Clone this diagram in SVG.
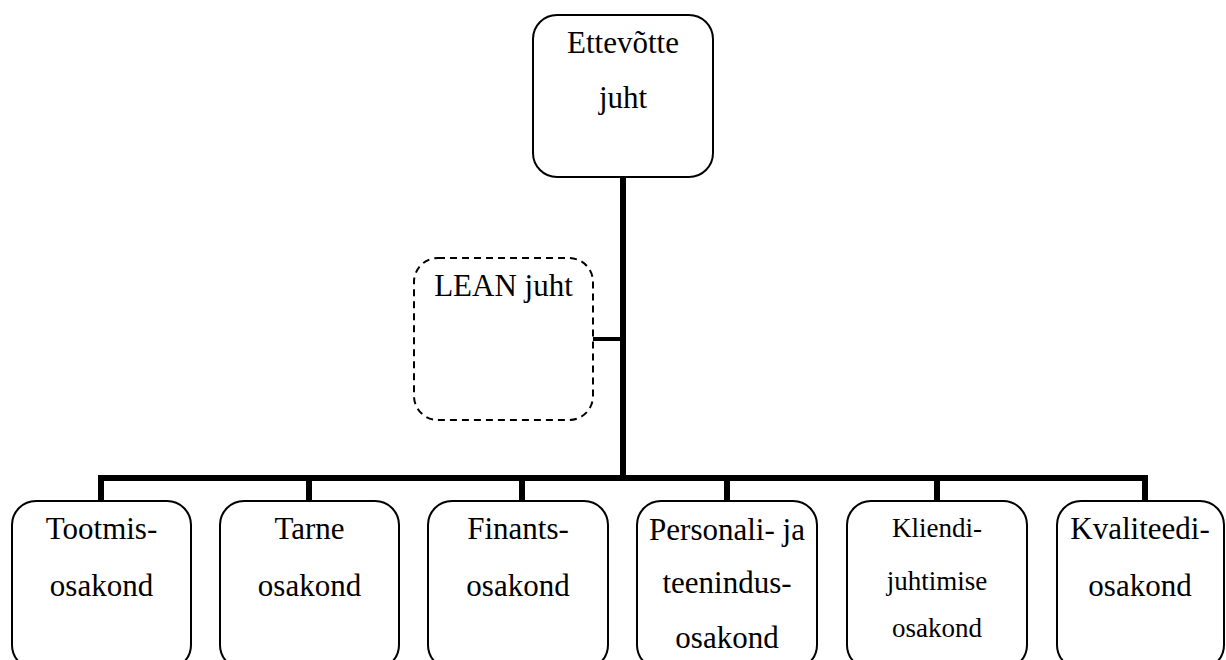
<svg xmlns="http://www.w3.org/2000/svg" width="1226" height="660" viewBox="0 0 1226 660">
  <style>
    .box { fill: #fff; stroke: #000; stroke-width: 2; }
    .dash { fill: #fff; stroke: #000; stroke-width: 2; stroke-dasharray: 7 5; }
    .lbl { font-size: 31px; fill: #000; text-anchor: middle; }
    .sm { font-size: 27px; }
    .wire { stroke: #000; stroke-width: 6; fill: none; }
    .thin { stroke: #000; stroke-width: 4; fill: none; }
  </style>
  <rect width="1226" height="660" fill="#fff"/>

  <!-- hierarchy lines -->
  <g id="connectors">
    <line class="wire" x1="623" y1="177" x2="623" y2="481"/>
    <line class="thin" x1="593" y1="339" x2="623" y2="339"/>
    <line class="wire" x1="98" y1="478" x2="1148" y2="478"/>
    <line class="wire" x1="101" y1="478" x2="101" y2="502"/>
    <line class="wire" x1="309" y1="478" x2="309" y2="502"/>
    <line class="wire" x1="522" y1="478" x2="522" y2="502"/>
    <line class="wire" x1="727" y1="478" x2="727" y2="502"/>
    <line class="wire" x1="937" y1="478" x2="937" y2="502"/>
    <line class="wire" x1="1145" y1="478" x2="1145" y2="502"/>
  </g>

  <g font-family="'Liberation Serif', 'DejaVu Serif', serif">
    <g id="ettevotte-juht">
      <rect class="box" x="533" y="15" width="180" height="162" rx="24"/>
      <text class="lbl" x="623" y="53">Ettevõtte</text>
      <text class="lbl" x="623" y="108">juht</text>
    </g>

    <g id="lean-juht">
      <rect class="dash" x="414" y="258" width="179" height="162" rx="24"/>
      <text class="lbl" x="503.5" y="296">LEAN juht</text>
    </g>

    <g id="tootmisosakond">
      <rect class="box" x="12" y="501" width="179" height="168" rx="24"/>
      <text class="lbl" x="101.5" y="539">Tootmis-</text>
      <text class="lbl" x="101.5" y="596">osakond</text>
    </g>

    <g id="tarneosakond">
      <rect class="box" x="220" y="501" width="179" height="168" rx="24"/>
      <text class="lbl" x="309.5" y="539">Tarne</text>
      <text class="lbl" x="309.5" y="596">osakond</text>
    </g>

    <g id="finantsosakond">
      <rect class="box" x="428" y="501" width="180" height="168" rx="24"/>
      <text class="lbl" x="518" y="539">Finants-</text>
      <text class="lbl" x="518" y="596">osakond</text>
    </g>

    <g id="personaliosakond">
      <rect class="box" x="637" y="501" width="180" height="168" rx="24"/>
      <text class="lbl" x="727" y="540">Personali- ja</text>
      <text class="lbl" x="727" y="593">teenindus-</text>
      <text class="lbl" x="727" y="648">osakond</text>
    </g>

    <g id="kliendiosakond">
      <rect class="box" x="847" y="501" width="180" height="168" rx="24"/>
      <text class="lbl sm" x="937" y="537">Kliendi-</text>
      <text class="lbl sm" x="937" y="590">juhtimise</text>
      <text class="lbl sm" x="937" y="637">osakond</text>
    </g>

    <g id="kvaliteediosakond">
      <rect class="box" x="1057" y="501" width="167" height="168" rx="24"/>
      <text class="lbl" x="1140" y="539">Kvaliteedi-</text>
      <text class="lbl" x="1140" y="596">osakond</text>
    </g>
  </g>
</svg>
